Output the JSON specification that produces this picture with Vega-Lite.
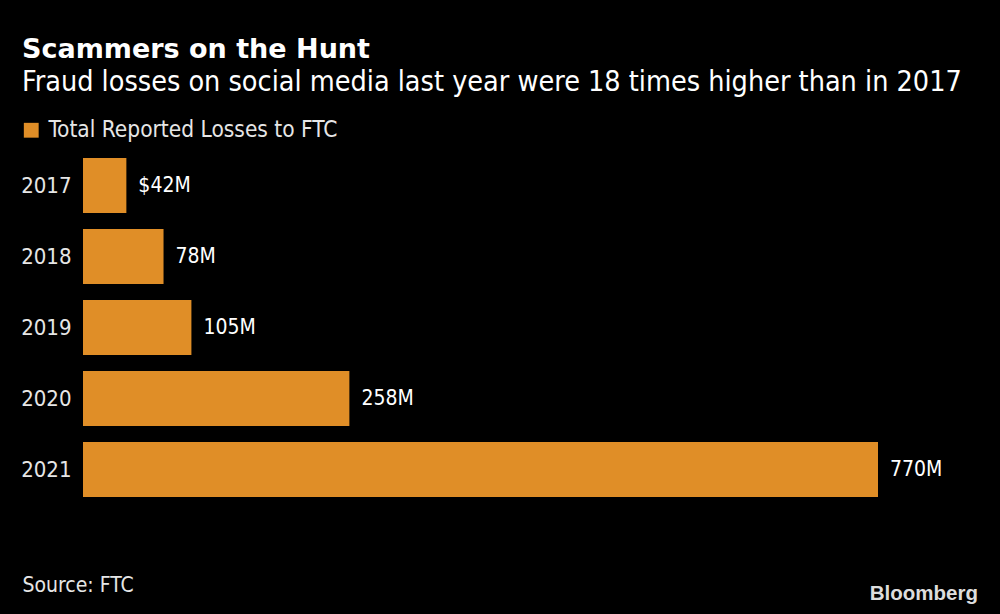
{
  "$schema": "https://vega.github.io/schema/vega-lite/v6.json",
  "autosize": "none",
  "width": 795,
  "height": 355,
  "padding": {"left": 83, "top": 150, "right": 122, "bottom": 109},
  "background": "#000000",
  "title": {
    "text": "Scammers on the Hunt",
    "subtitle": "Fraud losses on social media last year were 18 times higher than in 2017",
    "anchor": "start",
    "frame": "group",
    "dx": -61,
    "offset": 22,
    "font": "DejaVu Sans",
    "fontWeight": "bold",
    "fontSize": 27,
    "color": "#ffffff",
    "subtitleFont": "DejaVu Sans Condensed",
    "subtitleFontSize": 28.5,
    "subtitleColor": "#ffffff",
    "subtitlePadding": 4
  },
  "data": {
    "values": [
      {"year": "2017", "losses": 42, "label": "$42M", "series": "Total Reported Losses to FTC"},
      {"year": "2018", "losses": 78, "label": "78M", "series": "Total Reported Losses to FTC"},
      {"year": "2019", "losses": 105, "label": "105M", "series": "Total Reported Losses to FTC"},
      {"year": "2020", "losses": 258, "label": "258M", "series": "Total Reported Losses to FTC"},
      {"year": "2021", "losses": 770, "label": "770M", "series": "Total Reported Losses to FTC"}
    ]
  },
  "encoding": {
    "y": {
      "field": "year",
      "type": "nominal",
      "sort": null,
      "scale": {"paddingInner": 0.225, "paddingOuter": 0.1125},
      "axis": {
        "title": null,
        "ticks": false,
        "domain": false,
        "labelPadding": 12,
        "labelFont": "DejaVu Sans Condensed",
        "labelFontSize": 22,
        "labelColor": "#e6e6e6"
      }
    },
    "x": {
      "field": "losses",
      "type": "quantitative",
      "scale": {"domain": [0, 770], "nice": false},
      "axis": {
        "labels": false,
        "ticks": false,
        "domain": false,
        "grid": false,
        "title": "Source: FTC",
        "titleFont": "DejaVu Sans Condensed",
        "titleFontSize": 21,
        "titleFontWeight": "normal",
        "titleColor": "#e6e6e6",
        "titleAnchor": "start",
        "titleAlign": "left",
        "titleBaseline": "middle",
        "titleX": -61,
        "titleY": 80
      }
    }
  },
  "layer": [
    {
      "mark": {"type": "bar", "color": "#e08e27"},
      "encoding": {
        "color": {
          "field": "series",
          "type": "nominal",
          "scale": {"range": ["#e08e27"]},
          "legend": {
            "title": null,
            "orient": "none",
            "legendX": -63,
            "legendY": -31,
            "symbolType": "square",
            "symbolSize": 220,
            "symbolStrokeWidth": 0,
            "labelFont": "DejaVu Sans Condensed",
            "labelFontSize": 22.5,
            "labelLimit": 500,
            "labelColor": "#e6e6e6",
            "labelOffset": 6
          }
        }
      }
    },
    {
      "mark": {
        "type": "text",
        "align": "left",
        "baseline": "middle",
        "dx": 12,
        "font": "DejaVu Sans Condensed",
        "fontSize": 21,
        "color": "#ffffff"
      },
      "encoding": {"text": {"field": "label"}}
    },
    {
      "data": {"values": [{"brand": "Bloomberg"}]},
      "mark": {
        "type": "text",
        "align": "right",
        "baseline": "middle",
        "font": "Liberation Sans",
        "fontWeight": "bold",
        "fontSize": 20.5,
        "color": "#dddddd",
        "x": 895,
        "y": 444
      },
      "encoding": {"text": {"field": "brand"}, "x": null, "y": null}
    }
  ],
  "config": {"view": {"stroke": null}}
}
